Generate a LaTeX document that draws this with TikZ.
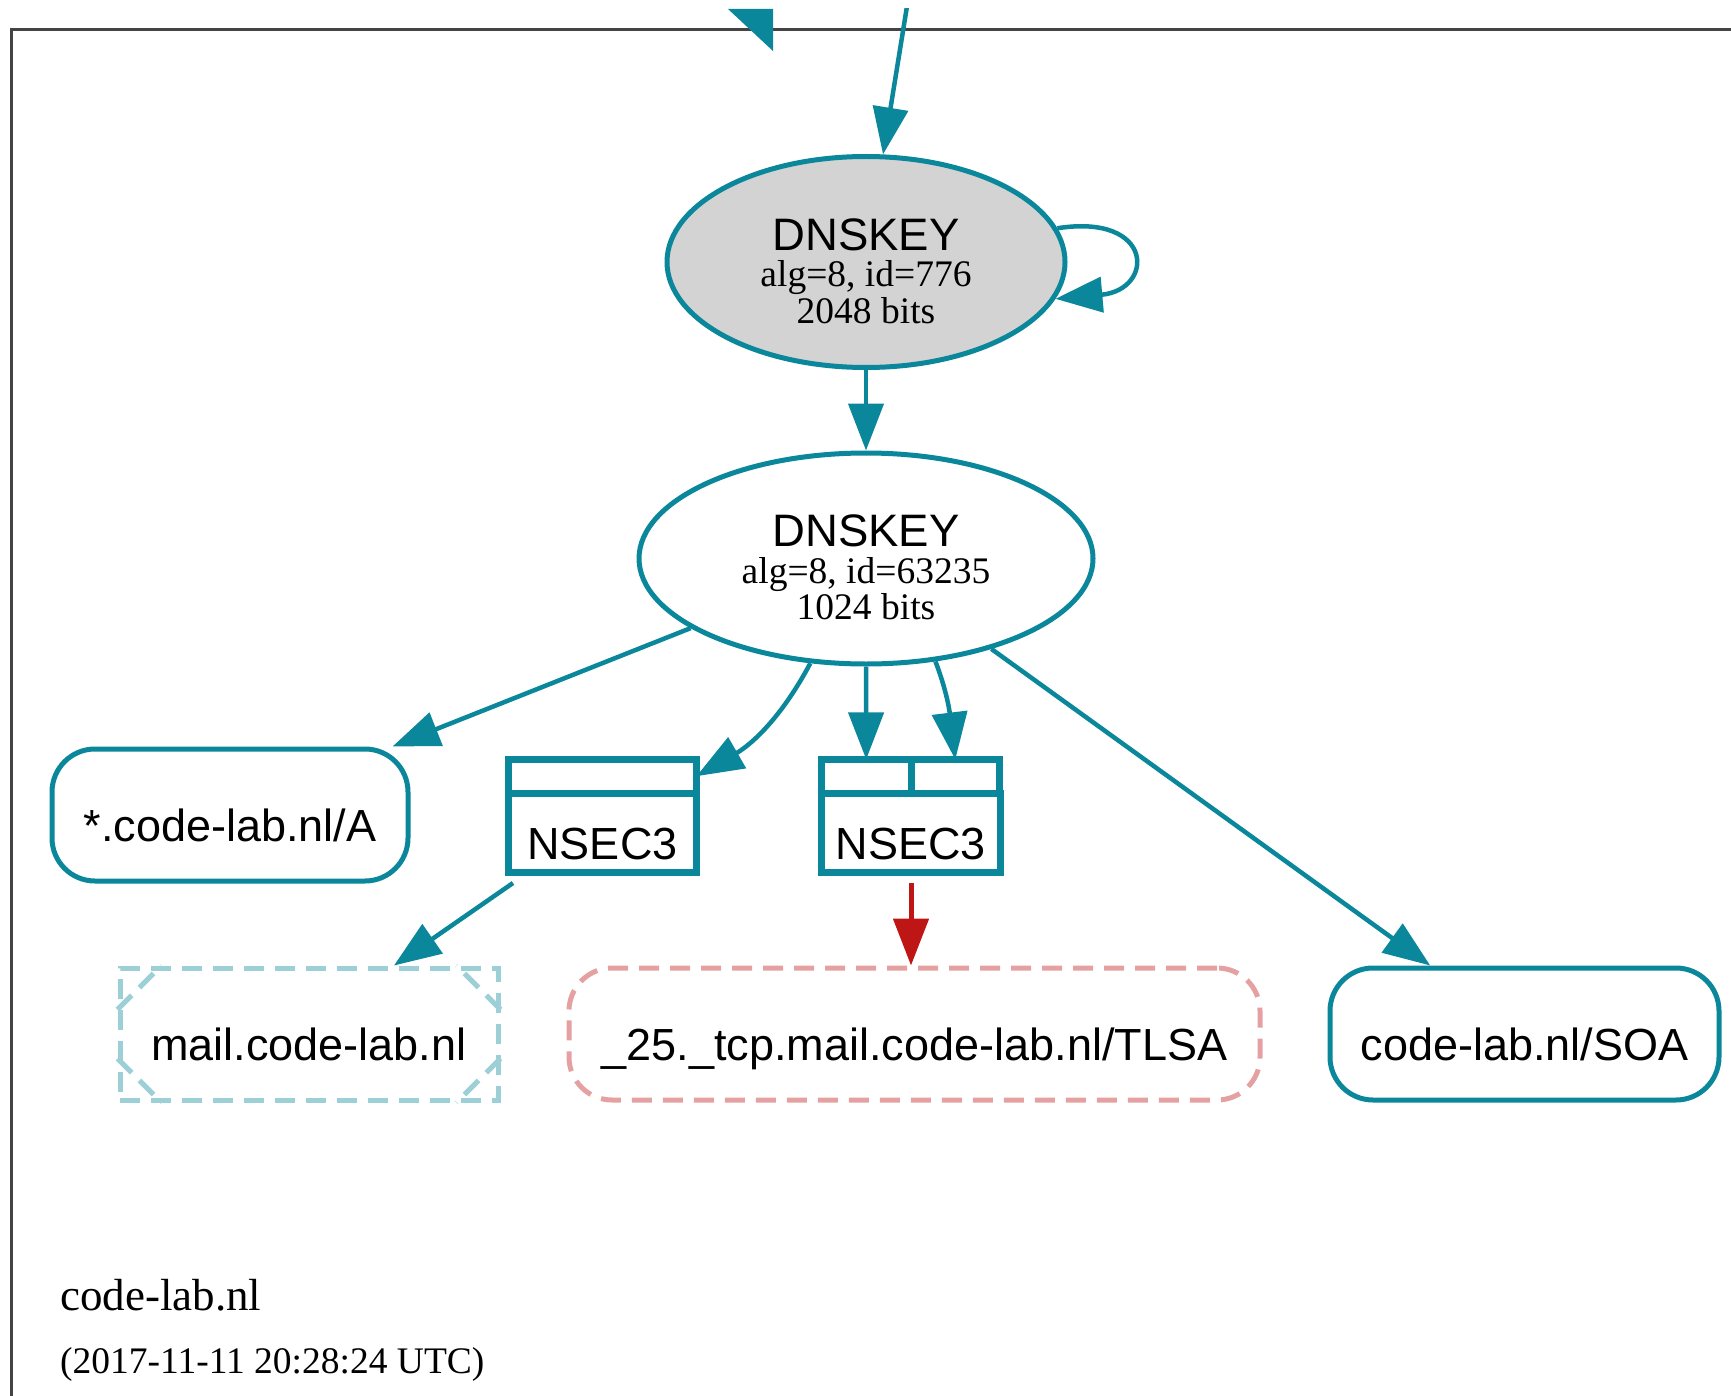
\documentclass[tikz,border=0pt]{standalone}
\usepackage{fontspec}
\setmainfont{Liberation Serif}
\setsansfont{Liberation Sans}
\usepackage{xcolor}
\usepackage{tikz}
\definecolor{secure}{RGB}{10,135,154}
\definecolor{securenx}{RGB}{157,207,214}
\definecolor{bogus}{RGB}{190,21,21}
\definecolor{bogusnx}{RGB}{229,161,161}
\definecolor{keygray}{RGB}{211,211,211}
\definecolor{framegray}{RGB}{68,68,68}
\usetikzlibrary{shapes.geometric,arrows.meta,positioning}

\tikzset{
  keynode/.style={ellipse, draw=secure, line width=5pt, inner sep=0pt, align=center,
    font=\fontsize{37.5}{36.5}\selectfont},
  rrbox/.style={rectangle, rounded corners=43pt, line width=5pt, minimum height=132pt,
    inner sep=0pt, text height=53pt, text depth=0pt, font=\sffamily\fontsize{45}{50}\selectfont},
  nxbox/.style={rectangle, draw=securenx, line width=5pt, dash pattern=on 20pt off 11pt,
    minimum height=132pt, inner sep=0pt, text height=53pt, text depth=0pt,
    font=\sffamily\fontsize{45}{50}\selectfont},
  cellbox/.style={rectangle, draw=secure, line width=7pt, inner sep=0pt, outer sep=0pt},
  nsectext/.style={text height=53pt, text depth=0pt, font=\sffamily\fontsize{45}{50}\selectfont},
  sigedge/.style={draw=secure, line width=4.5pt, -{Triangle[length=47pt,width=35pt]}},
  bogusedge/.style={draw=bogus, line width=5pt, -{Triangle[length=47pt,width=35pt]}},
}

\begin{document}
\begin{tikzpicture}[x=1pt, y=-1pt]
    \useasboundingbox (0,0) rectangle (1731,1396);
    \clip (0,9) rectangle (1731,1396);

    % zone frame
    \draw[framegray, line width=3pt] (1745,30) -- (11.5,30) -- (11.5,1410);

    % keys
    \node[keynode, fill=keygray, minimum width=398pt, minimum height=211pt] (key776) at (866,262)
        {\rule{0pt}{50pt}{\sffamily\fontsize{45.5}{36.5}\selectfont DNSKEY}\\alg=8, id=776\\2048 bits};
    \node[keynode, fill=white, minimum width=454pt, minimum height=211pt] (key63235) at (866,558.5)
        {\rule{0pt}{50pt}{\sffamily\fontsize{45.5}{36.5}\selectfont DNSKEY}\\alg=8, id=63235\\1024 bits};

    % RRsets and NSEC3
    \node[rrbox, draw=secure, minimum width=356pt] (recA) at (230,815) {*.code-lab.nl/A};

    \node[cellbox, minimum width=188pt, minimum height=33.6pt] (nsecLport) at (602.5,776.2) {};
    \node[cellbox, nsectext, minimum width=188pt, minimum height=79pt, below=0pt of nsecLport] (nsecL) {NSEC3};

    \node[cellbox, minimum width=89.6pt, minimum height=33.6pt] (nsecRa) at (866.2,776.2) {};
    \node[cellbox, minimum width=88.6pt, minimum height=33.6pt, right=0pt of nsecRa] (nsecRb) {};
    \node[cellbox, nsectext, minimum width=178.2pt, minimum height=79pt, below=0pt of nsecRa.south east] (nsecR) {NSEC3};

    \node[nxbox, minimum width=378pt] (mail) at (309,1034) {mail.code-lab.nl};
    \node[rrbox, draw=bogusnx, dash pattern=on 20pt off 11pt, minimum width=691pt] (tlsa) at (914.5,1034)
        {\_25.\_tcp.mail.code-lab.nl/TLSA};
    \node[rrbox, draw=secure, minimum width=389pt] (soa) at (1524.5,1034) {code-lab.nl/SOA};

    % corner diagonals of the non-existent name
    \foreach \c/\sx/\sy in {north west/1/-1, north east/-1/-1, south west/1/1, south east/-1/1}
        \draw[securenx, line width=5pt, dash pattern=on 20pt off 11pt]
            ([yshift=\sy*44pt]mail.\c) -- ([xshift=\sx*44pt]mail.\c);

    % zone name and time
    \node[anchor=base west, inner sep=0pt, font=\fontsize{45}{50}\selectfont] (zonename) at (60,1310) {code-lab.nl};
    \node[anchor=base west, inner sep=0pt, font=\fontsize{37.5}{40}\selectfont] (zonetime) at (60,1373)
        {(2017-11-11 20:28:24 UTC)};

    % edges
    \coordinate (topin) at (908,0);
    \fill[secure] (728,9) -- (773,9) -- (773,51) -- cycle;
    \draw[sigedge] (topin) -- (key776.81);
    \draw[sigedge] (key776.10) .. controls (1155,213) and (1155,290) .. (key776.-11);
    \draw[sigedge] (key776) -- (key63235);
    \draw[sigedge] (key63235) -- ([xshift=-18pt]recA.north east);
    \draw[sigedge] (key63235.242) to[out=-118, in=30] (nsecLport.east);
    \draw[sigedge] (key63235.south) -- (nsecRa.north);
    \draw[sigedge] (key63235.-56) to[out=-69, in=97] (nsecRb.north);
    \draw[sigedge] (key63235) -- (soa);
    \draw[sigedge] ([xshift=4.5pt,yshift=-11pt]nsecL.south west) -- ([xshift=85pt]mail.north);
    \draw[bogusedge] ([yshift=-11pt]nsecR.south) -- (nsecR.south |- tlsa.north);
\end{tikzpicture}
\end{document}
